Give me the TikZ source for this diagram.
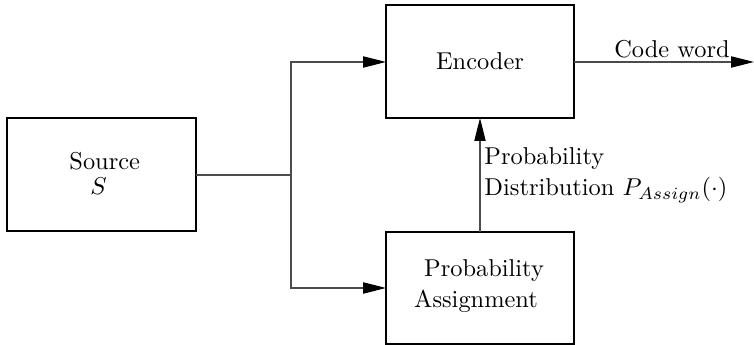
\documentclass[tikz,border=0pt]{standalone}
\usetikzlibrary{arrows.meta}
\begin{document}
\begin{tikzpicture}[x=0.41pt,y=-0.41pt,
  blockbox/.style={draw, line width=0.5pt},
  wire/.style={line width=0.45pt, draw=black!70},
  feed/.style={wire, -{Triangle[length=9.4pt,width=4.6pt,color=black]}},
  lbl/.style={inner sep=0pt, anchor=base west}]
\useasboundingbox (0,0) rectangle (754,345);
% blocks
\draw[blockbox] (7,118) rectangle (196,231);
\draw[blockbox] (386,5) rectangle (574,118);
\draw[blockbox] (386,232) rectangle (574,344);
\coordinate (srcE) at (196,175);
\coordinate (split) at (291,175);
\coordinate (encW) at (386,62);
\coordinate (encE) at (574,62);
\coordinate (encS) at (480,118);
\coordinate (paW) at (386,288);
\coordinate (paN) at (480,232);
\coordinate (out) at (754,62);
% block texts
\node[lbl] (t1) at (69,170) {Source};
\node[lbl] (t2) at (90,195) {$S$};
\node[lbl, anchor=base] (t3) at (480,70) {Encoder};
\node[lbl, anchor=base] (t4) at (484,277) {Probability};
\node[lbl, anchor=base] (t5) at (476,308) {Assignment};
% connectors
\draw[wire] (srcE) -- (split);
\draw[feed] (split) |- (encW);
\draw[feed] (split) |- (paW);
\draw[feed] (paN) -- (encS);
\draw[feed] (encE) -- (out);
% connector labels
\node[lbl, anchor=base] (cw) at (672,58) {Code word};
\node[lbl] (pd1) at (484,165) {Probability};
\node[lbl] (pd2) at (484,196) {Distribution $P_{Assign}(\cdot)$};
\end{tikzpicture}
\end{document}
